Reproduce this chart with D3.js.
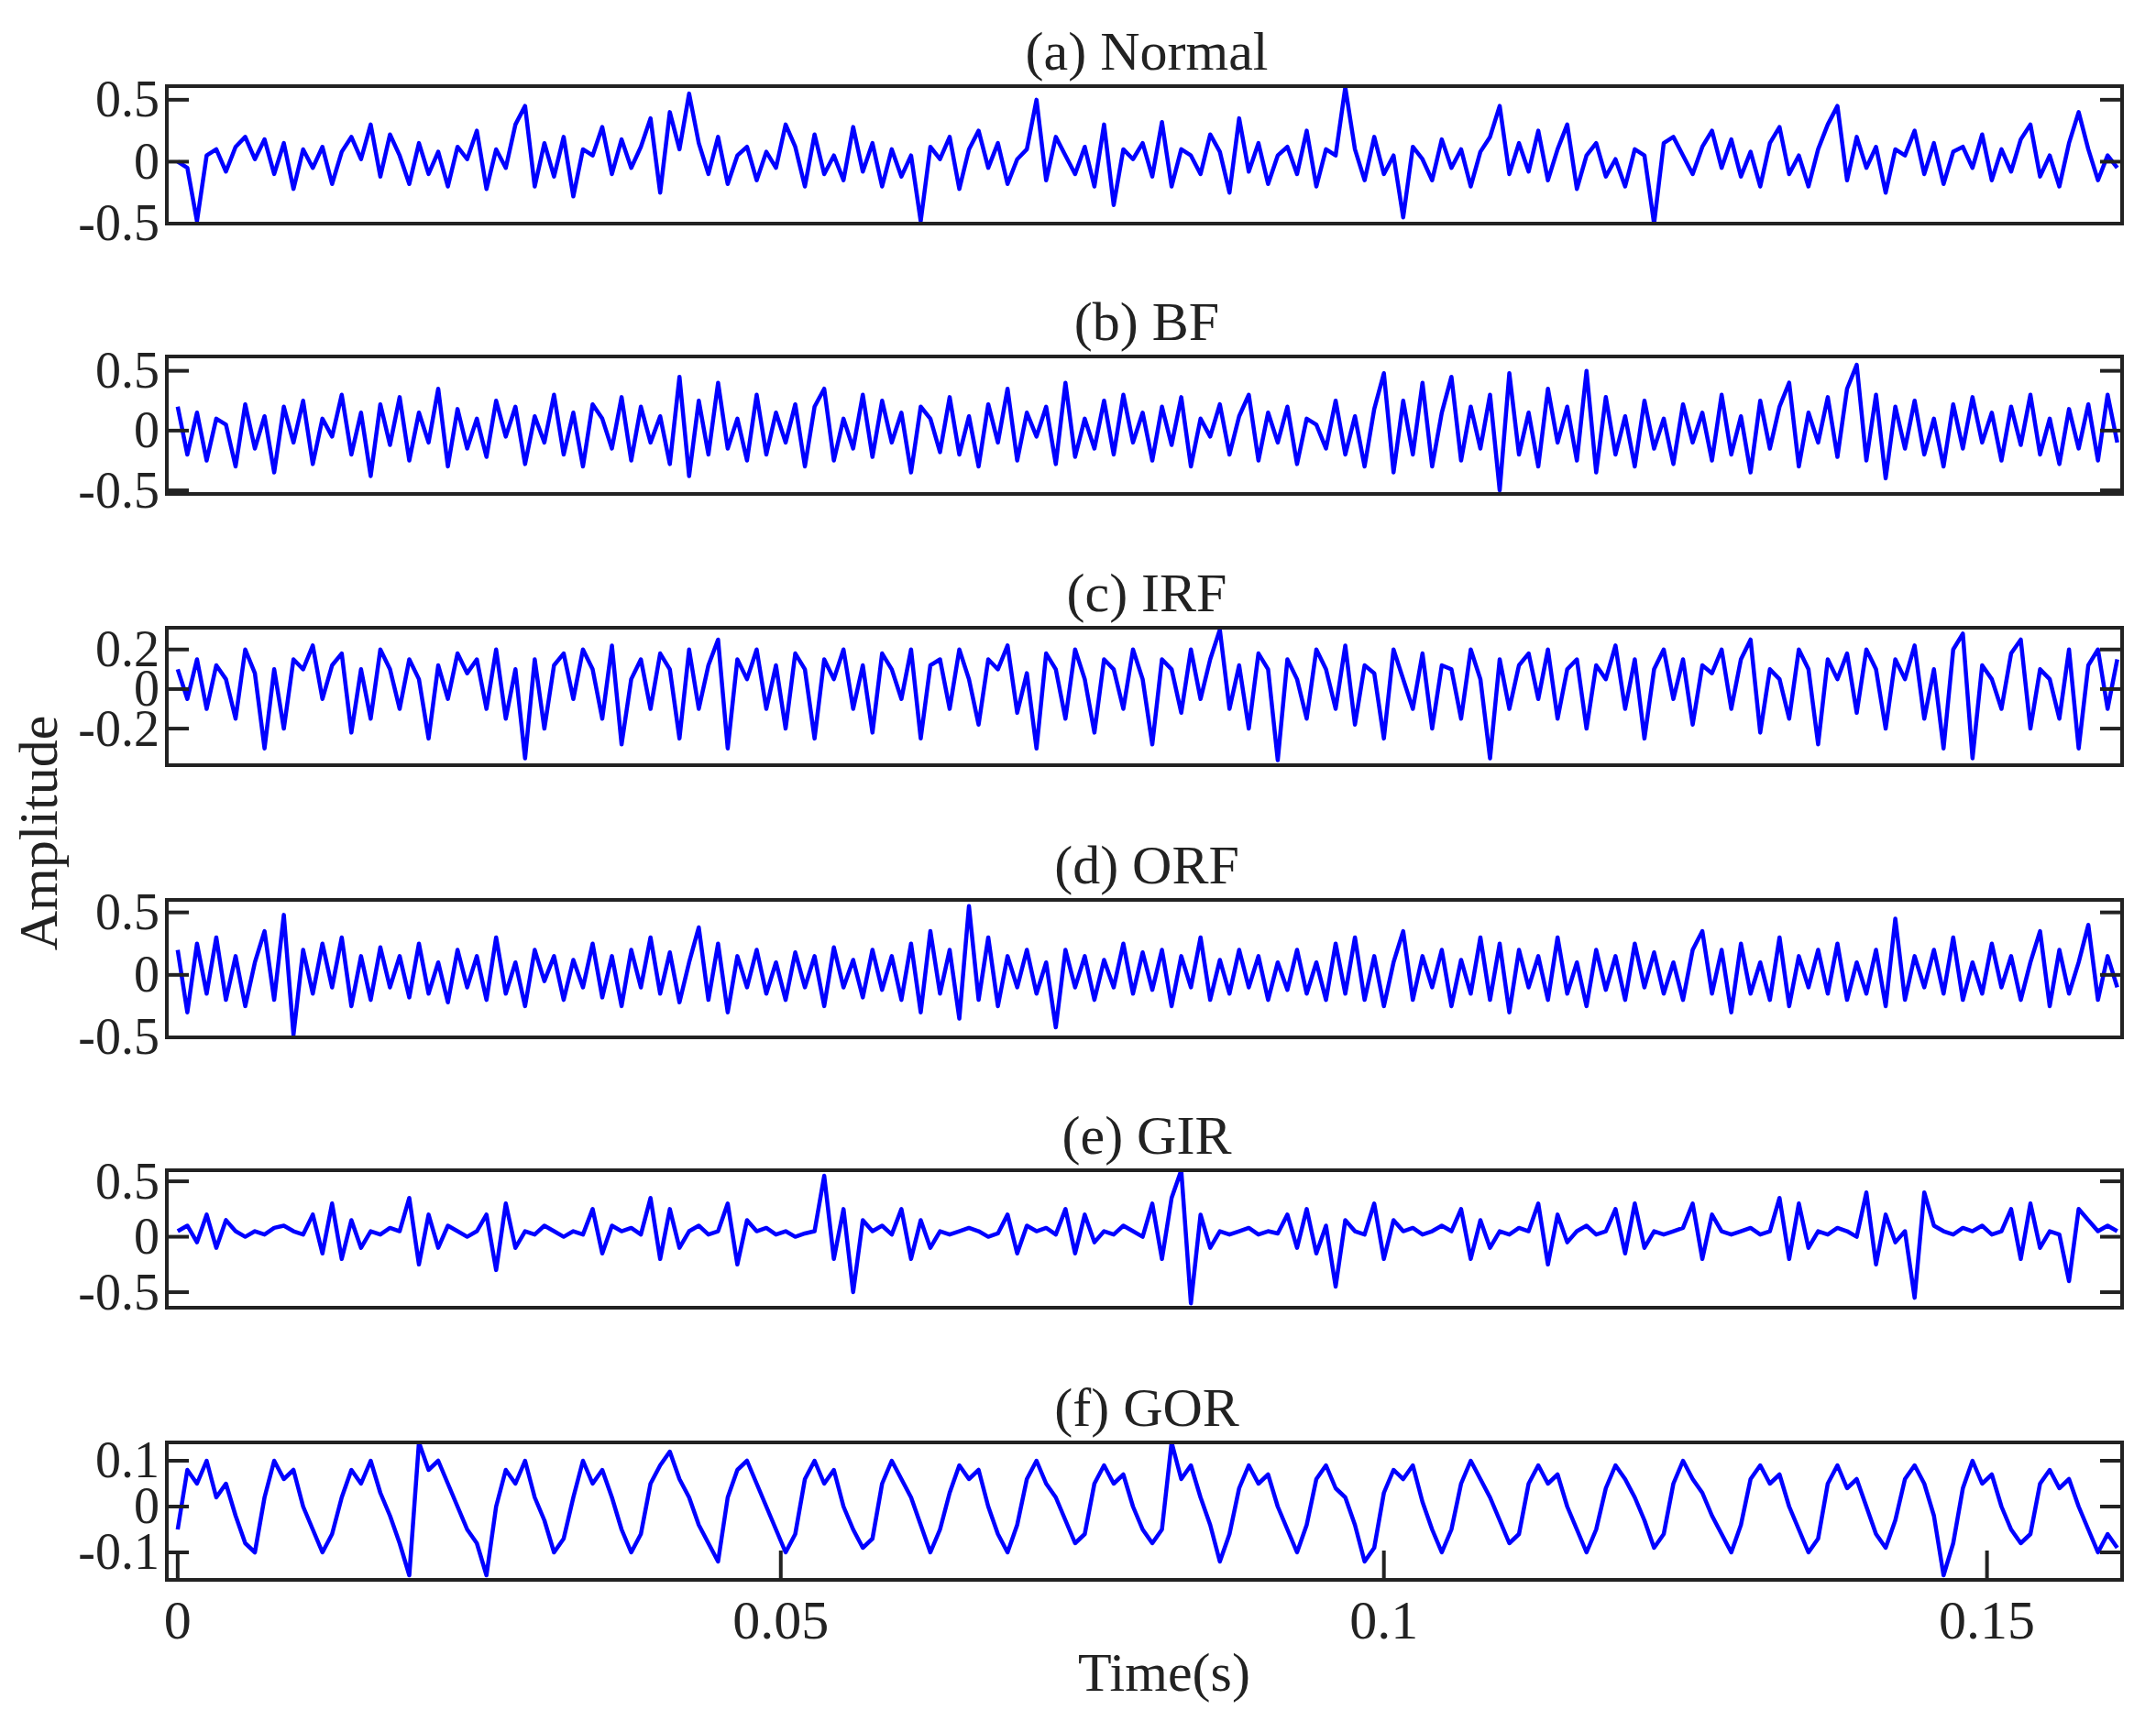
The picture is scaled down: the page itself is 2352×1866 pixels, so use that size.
<!DOCTYPE html>
<html><head><meta charset="utf-8">
<script src="https://cdn.jsdelivr.net/npm/d3@7"></script>
<style>body{margin:0;background:#fff}svg{display:block}text{font-family:"Liberation Serif","DejaVu Serif",serif;fill:#222}</style>
</head><body><svg id="c" width="2352" height="1866"></svg>
<script>
const titles=["(a) Normal","(b) BF","(c) IRF","(d) ORF","(e) GIR","(f) GOR"];
const yTicks=[[-0.5,0,0.5],[-0.5,0,0.5],[-0.2,0,0.2],[-0.5,0,0.5],[-0.5,0,0.5],[-0.1,0,0.1]];
const xTicks=[0,0.05,0.1,0.15];
const xTickLabels=["0","0.05","0.1","0.15"];
const sigA=[0,-0.05,-0.48,0.05,0.1,-0.08,0.12,0.2,0.02,0.18,-0.1,0.15,-0.22,0.1,-0.05,0.12,-0.18,0.08,0.2,0.02,
0.3,-0.12,0.22,0.05,-0.18,0.15,-0.1,0.08,-0.2,0.12,0.02,0.25,-0.22,0.1,-0.05,0.3,0.45,-0.2,0.15,-0.12,
0.2,-0.28,0.1,0.05,0.28,-0.1,0.18,-0.05,0.12,0.35,-0.25,0.4,0.1,0.55,0.15,-0.1,0.2,-0.18,0.05,0.12,
-0.15,0.08,-0.05,0.3,0.12,-0.2,0.22,-0.1,0.05,-0.15,0.28,-0.08,0.15,-0.2,0.1,-0.12,0.05,-0.48,0.12,0.02,
0.2,-0.22,0.1,0.25,-0.05,0.15,-0.18,0.02,0.1,0.5,-0.15,0.2,0.05,-0.1,0.12,-0.2,0.3,-0.35,0.1,0.02,
0.15,-0.12,0.32,-0.2,0.1,0.05,-0.1,0.22,0.08,-0.25,0.35,-0.08,0.15,-0.18,0.05,0.12,-0.1,0.25,-0.2,0.1,
0.05,0.6,0.1,-0.15,0.2,-0.1,0.05,-0.45,0.12,0.02,-0.15,0.18,-0.05,0.1,-0.2,0.08,0.2,0.45,-0.1,0.15,
-0.08,0.25,-0.15,0.1,0.3,-0.22,0.05,0.15,-0.12,0.02,-0.2,0.1,0.05,-0.5,0.15,0.2,0.05,-0.1,0.12,0.25,
-0.05,0.18,-0.12,0.08,-0.2,0.15,0.28,-0.1,0.05,-0.2,0.1,0.3,0.45,-0.15,0.2,-0.05,0.12,-0.25,0.1,0.05,
0.25,-0.1,0.15,-0.18,0.08,0.12,-0.05,0.22,-0.15,0.1,-0.08,0.18,0.3,-0.12,0.05,-0.2,0.15,0.4,0.1,-0.15,0.05,-0.05];
const sigB=[0.2,-0.2,0.15,-0.25,0.1,0.05,-0.3,0.22,-0.15,0.12,-0.35,0.2,-0.1,0.25,-0.28,0.1,-0.05,0.3,-0.2,0.15,
-0.38,0.22,-0.12,0.28,-0.25,0.15,-0.1,0.35,-0.3,0.18,-0.15,0.1,-0.22,0.25,-0.05,0.2,-0.28,0.12,-0.1,0.3,
-0.2,0.15,-0.3,0.22,0.1,-0.15,0.28,-0.25,0.2,-0.1,0.12,-0.28,0.45,-0.38,0.25,-0.2,0.4,-0.15,0.1,-0.25,
0.3,-0.2,0.15,-0.1,0.22,-0.3,0.2,0.35,-0.25,0.1,-0.15,0.3,-0.22,0.25,-0.1,0.15,-0.35,0.2,0.1,-0.18,
0.28,-0.2,0.12,-0.3,0.22,-0.1,0.35,-0.25,0.15,-0.05,0.2,-0.28,0.4,-0.22,0.1,-0.15,0.25,-0.2,0.3,-0.1,
0.15,-0.25,0.2,-0.12,0.28,-0.3,0.1,-0.05,0.22,-0.2,0.12,0.3,-0.25,0.15,-0.1,0.2,-0.28,0.1,0.05,-0.15,
0.25,-0.2,0.12,-0.3,0.18,0.48,-0.35,0.25,-0.2,0.4,-0.3,0.15,0.45,-0.25,0.2,-0.15,0.3,-0.5,0.48,-0.2,
0.15,-0.3,0.35,-0.1,0.2,-0.25,0.5,-0.35,0.28,-0.2,0.12,-0.3,0.25,-0.15,0.1,-0.28,0.22,-0.1,0.15,-0.25,
0.3,-0.2,0.12,-0.35,0.25,-0.15,0.2,0.4,-0.3,0.15,-0.1,0.28,-0.22,0.35,0.55,-0.25,0.3,-0.4,0.2,-0.15,
0.25,-0.2,0.1,-0.3,0.22,-0.15,0.28,-0.1,0.15,-0.25,0.2,-0.12,0.3,-0.2,0.1,-0.28,0.18,-0.15,0.22,-0.25,0.3,-0.1];
const sigC=[0.1,-0.05,0.15,-0.1,0.12,0.05,-0.15,0.2,0.08,-0.3,0.1,-0.2,0.15,0.1,0.22,-0.05,0.12,0.18,-0.22,0.1,
-0.15,0.2,0.1,-0.1,0.15,0.05,-0.25,0.12,-0.05,0.18,0.08,0.15,-0.1,0.2,-0.15,0.1,-0.35,0.15,-0.2,0.12,
0.18,-0.05,0.2,0.1,-0.15,0.22,-0.28,0.05,0.15,-0.1,0.18,0.1,-0.25,0.2,-0.1,0.12,0.25,-0.3,0.15,0.05,
0.2,-0.1,0.12,-0.2,0.18,0.1,-0.25,0.15,0.05,0.2,-0.1,0.12,-0.22,0.18,0.1,-0.05,0.2,-0.25,0.12,0.15,
-0.1,0.2,0.05,-0.18,0.15,0.1,0.22,-0.12,0.08,-0.3,0.18,0.1,-0.15,0.2,0.05,-0.22,0.15,0.1,-0.1,0.2,
0.05,-0.28,0.15,0.1,-0.12,0.2,-0.05,0.15,0.3,-0.1,0.12,-0.2,0.18,0.1,-0.36,0.15,0.05,-0.15,0.2,0.1,
-0.1,0.22,-0.18,0.12,0.08,-0.25,0.2,0.05,-0.1,0.18,-0.2,0.12,0.1,-0.15,0.2,0.05,-0.35,0.15,-0.1,0.12,
0.18,-0.05,0.2,-0.15,0.1,0.15,-0.2,0.12,0.05,0.22,-0.1,0.15,-0.25,0.1,0.2,-0.05,0.15,-0.18,0.12,0.08,
0.2,-0.1,0.15,0.25,-0.22,0.1,0.05,-0.15,0.2,0.1,-0.28,0.15,0.05,0.18,-0.12,0.2,0.1,-0.2,0.15,0.05,
0.22,-0.15,0.1,-0.3,0.2,0.28,-0.35,0.12,0.05,-0.1,0.18,0.25,-0.2,0.1,0.05,-0.15,0.2,-0.3,0.12,0.2,-0.1,0.15];
const sigD=[0.2,-0.3,0.25,-0.15,0.3,-0.2,0.15,-0.25,0.1,0.35,-0.2,0.48,-0.48,0.2,-0.15,0.25,-0.1,0.3,-0.25,0.15,
-0.2,0.22,-0.1,0.15,-0.18,0.25,-0.15,0.1,-0.22,0.2,-0.1,0.15,-0.2,0.3,-0.15,0.1,-0.25,0.2,-0.05,0.15,
-0.2,0.12,-0.1,0.25,-0.18,0.15,-0.25,0.2,-0.1,0.3,-0.15,0.18,-0.22,0.1,0.38,-0.2,0.25,-0.3,0.15,-0.1,
0.2,-0.15,0.1,-0.2,0.18,-0.1,0.15,-0.25,0.22,-0.1,0.12,-0.18,0.2,-0.12,0.15,-0.2,0.25,-0.3,0.35,-0.15,
0.2,-0.35,0.55,-0.2,0.3,-0.25,0.15,-0.1,0.2,-0.15,0.1,-0.42,0.2,-0.1,0.15,-0.2,0.12,-0.1,0.25,-0.15,
0.18,-0.12,0.2,-0.25,0.15,-0.1,0.3,-0.2,0.12,-0.15,0.2,-0.1,0.15,-0.2,0.1,-0.12,0.2,-0.15,0.1,-0.2,
0.25,-0.15,0.3,-0.2,0.15,-0.25,0.1,0.35,-0.2,0.15,-0.1,0.2,-0.25,0.12,-0.15,0.3,-0.2,0.25,-0.3,0.2,
-0.1,0.15,-0.2,0.3,-0.15,0.1,-0.25,0.2,-0.12,0.15,-0.2,0.25,-0.1,0.18,-0.15,0.1,-0.2,0.2,0.35,-0.15,
0.2,-0.3,0.25,-0.15,0.1,-0.2,0.3,-0.25,0.15,-0.1,0.2,-0.15,0.25,-0.2,0.1,-0.15,0.2,-0.25,0.45,-0.2,
0.15,-0.1,0.2,-0.15,0.3,-0.2,0.1,-0.15,0.25,-0.1,0.15,-0.2,0.1,0.35,-0.25,0.2,-0.15,0.1,0.4,-0.2,0.15,-0.1];
const sigE=[0.05,0.1,-0.05,0.2,-0.1,0.15,0.05,0.0,0.05,0.02,0.08,0.1,0.05,0.02,0.2,-0.15,0.3,-0.2,0.15,-0.1,
0.05,0.02,0.08,0.05,0.35,-0.25,0.2,-0.1,0.1,0.05,0.0,0.05,0.2,-0.3,0.3,-0.1,0.05,0.02,0.1,0.05,
0.0,0.05,0.02,0.25,-0.15,0.1,0.05,0.08,0.02,0.35,-0.2,0.25,-0.1,0.05,0.1,0.02,0.05,0.3,-0.25,0.15,
0.05,0.08,0.02,0.05,0.0,0.03,0.05,0.55,-0.2,0.25,-0.5,0.15,0.05,0.1,0.02,0.25,-0.2,0.15,-0.1,0.05,
0.02,0.05,0.08,0.05,0.0,0.03,0.2,-0.15,0.1,0.05,0.08,0.02,0.25,-0.15,0.2,-0.05,0.05,0.02,0.1,0.05,
0.0,0.3,-0.2,0.35,0.6,-0.6,0.2,-0.1,0.05,0.02,0.05,0.08,0.02,0.05,0.03,0.2,-0.1,0.25,-0.15,0.1,
-0.45,0.15,0.05,0.02,0.3,-0.2,0.15,0.05,0.08,0.02,0.05,0.1,0.05,0.25,-0.2,0.15,-0.1,0.05,0.02,0.08,
0.05,0.3,-0.25,0.2,-0.05,0.05,0.1,0.02,0.05,0.25,-0.15,0.3,-0.1,0.05,0.02,0.05,0.08,0.3,-0.2,0.2,
0.05,0.02,0.05,0.08,0.02,0.05,0.35,-0.2,0.3,-0.1,0.05,0.02,0.08,0.05,0.0,0.4,-0.25,0.2,-0.05,0.05,
-0.55,0.4,0.1,0.05,0.02,0.08,0.05,0.1,0.02,0.05,0.25,-0.2,0.3,-0.1,0.05,0.02,-0.4,0.25,0.15,0.05,0.1,0.05];
const sigF=[-0.05,0.08,0.05,0.1,0.02,0.05,-0.02,-0.08,-0.1,0.02,0.1,0.06,0.08,0.0,-0.05,-0.1,-0.06,0.02,0.08,0.05,
0.1,0.03,-0.02,-0.08,-0.15,0.14,0.08,0.1,0.05,0.0,-0.05,-0.08,-0.15,0.0,0.08,0.05,0.1,0.02,-0.03,-0.1,
-0.07,0.02,0.1,0.05,0.08,0.02,-0.05,-0.1,-0.06,0.05,0.09,0.12,0.06,0.02,-0.04,-0.08,-0.12,0.02,0.08,0.1,
0.05,0.0,-0.05,-0.1,-0.06,0.06,0.1,0.05,0.08,0.0,-0.05,-0.09,-0.07,0.05,0.1,0.06,0.02,-0.04,-0.1,-0.05,
0.03,0.09,0.06,0.08,0.0,-0.06,-0.1,-0.04,0.06,0.1,0.05,0.02,-0.03,-0.08,-0.06,0.05,0.09,0.05,0.07,0.0,
-0.05,-0.08,-0.05,0.14,0.06,0.09,0.02,-0.04,-0.12,-0.06,0.04,0.09,0.05,0.07,0.0,-0.05,-0.1,-0.04,0.06,0.09,
0.04,0.02,-0.04,-0.12,-0.09,0.03,0.08,0.06,0.09,0.01,-0.05,-0.1,-0.05,0.05,0.1,0.06,0.02,-0.03,-0.08,-0.06,
0.05,0.09,0.05,0.07,0.0,-0.05,-0.1,-0.05,0.04,0.09,0.06,0.02,-0.03,-0.09,-0.06,0.05,0.1,0.06,0.03,-0.02,
-0.06,-0.1,-0.04,0.06,0.09,0.05,0.07,0.0,-0.05,-0.1,-0.07,0.05,0.09,0.04,0.06,0.0,-0.06,-0.09,-0.03,0.06,
0.09,0.05,-0.02,-0.15,-0.08,0.04,0.1,0.05,0.07,0.0,-0.05,-0.08,-0.06,0.05,0.08,0.04,0.06,0.0,-0.05,-0.1,-0.06,-0.09];
const series=[sigA,sigB,sigC,sigD,sigE,sigF];
const yDomains=[[-0.5,0.61],[-0.53,0.62],[-0.385,0.31],[-0.5,0.6],[-0.64,0.6],[-0.16,0.14]];
const dt=0.0008;

const svg=d3.select("#c");
const L=182,R=2315;
const tops=[94,389,685,982,1277,1574], H=150;
const x=d3.scaleLinear().domain([-0.0009,0.1612]).range([L,R]);
const FS=60, TFS=56;
series.forEach((s,k)=>{
  const top=tops[k],bot=top+H;
  const y=d3.scaleLinear().domain(yDomains[k]).range([bot,top]);
  const g=svg.append("g");
  const cid="clip"+k;
  svg.append("clipPath").attr("id",cid).append("rect").attr("x",L).attr("y",top).attr("width",R-L).attr("height",H);
  g.append("path").datum(s).attr("clip-path",`url(#${cid})`)
    .attr("d",d3.line().x((d,i)=>x(i*dt)).y(d=>y(d)))
    .attr("fill","none").attr("stroke","#0000ff").attr("stroke-width",4.5).attr("stroke-linejoin","round");
  g.append("rect").attr("x",L).attr("y",top).attr("width",R-L).attr("height",H)
    .attr("fill","none").attr("stroke","#222").attr("stroke-width",4);
  yTicks[k].forEach(v=>{
    g.append("line").attr("x1",L).attr("x2",L+24).attr("y1",y(v)).attr("y2",y(v)).attr("stroke","#222").attr("stroke-width",4);
    g.append("line").attr("x1",R).attr("x2",R-24).attr("y1",y(v)).attr("y2",y(v)).attr("stroke","#222").attr("stroke-width",4);
    g.append("text").attr("x",L-8).attr("y",y(v)).attr("dy","0.33em").attr("text-anchor","end")
      .attr("font-size",TFS).text(v===0?"0":(v<0?"-":"")+String(Math.abs(v)));
  });
  g.append("text").attr("x",1251).attr("y",top-18).attr("text-anchor","middle").attr("font-size",FS).text(titles[k]);
  if(k===5){
    xTicks.forEach((v,i)=>{
      g.append("line").attr("x1",x(v)).attr("x2",x(v)).attr("y1",bot).attr("y2",bot-32).attr("stroke","#222").attr("stroke-width",4);
      g.append("text").attr("x",x(v)).attr("y",bot+64).attr("text-anchor","middle").attr("font-size",FS).text(xTickLabels[i]);
    });
  }
});
svg.append("text").attr("x",1270).attr("y",1845).attr("text-anchor","middle").attr("font-size",FS).text("Time(s)");
svg.append("text").attr("transform","translate(62,909) rotate(-90)").attr("text-anchor","middle").attr("font-size",FS).text("Amplitude");
</script></body></html>
